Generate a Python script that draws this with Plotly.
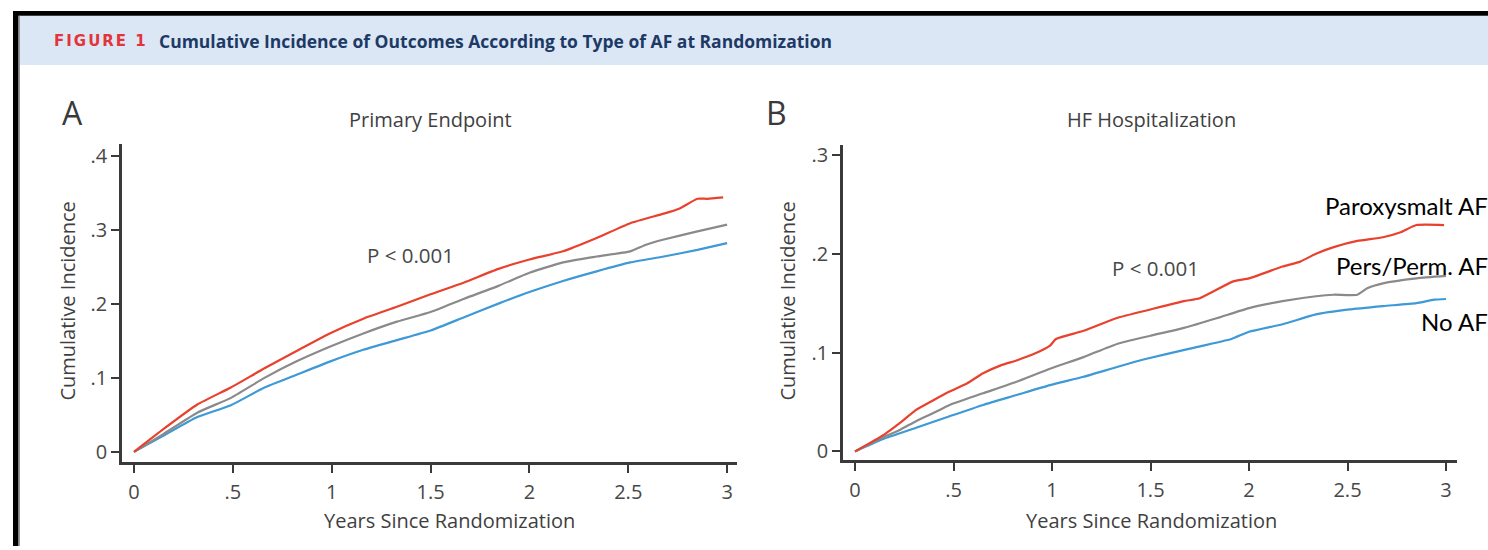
import plotly.graph_objects as go

W, H = 1488, 550

# ---------------- data ----------------
a_red_t = [0, 0.15, 0.32, 0.49, 0.66, 0.82, 0.99, 1.16, 1.33, 1.50, 1.67, 1.84, 2.00, 2.17, 2.34, 2.51, 2.68, 2.76, 2.85, 2.90, 2.98]
a_red_v = [0, 0.031, 0.064, 0.087, 0.113, 0.136, 0.160, 0.180, 0.196, 0.213, 0.229, 0.247, 0.260, 0.271, 0.289, 0.309, 0.322, 0.329, 0.342, 0.342, 0.344]

a_gray_t = [0, 0.15, 0.32, 0.49, 0.66, 0.82, 0.99, 1.16, 1.33, 1.50, 1.67, 1.84, 2.00, 2.17, 2.34, 2.51, 2.59, 2.68, 2.85, 3.0]
a_gray_v = [0, 0.0244, 0.053, 0.073, 0.100, 0.122, 0.142, 0.160, 0.176, 0.189, 0.207, 0.224, 0.242, 0.256, 0.264, 0.271, 0.280, 0.287, 0.298, 0.307]

a_blue_t = [0, 0.15, 0.32, 0.49, 0.66, 0.82, 0.99, 1.16, 1.33, 1.50, 1.67, 1.84, 2.00, 2.17, 2.34, 2.51, 2.68, 2.85, 3.0]
a_blue_v = [0, 0.022, 0.047, 0.063, 0.087, 0.104, 0.122, 0.138, 0.151, 0.164, 0.182, 0.200, 0.216, 0.231, 0.244, 0.256, 0.264, 0.273, 0.282]

b_red_t = [0, 0.15, 0.23, 0.31, 0.40, 0.48, 0.57, 0.65, 0.74, 0.82, 0.91, 0.99, 1.02, 1.16, 1.33, 1.50, 1.67, 1.75, 1.92, 2.00, 2.17, 2.26, 2.34, 2.43, 2.55, 2.68, 2.77, 2.85, 2.99]
b_red_v = [0, 0.0173, 0.029, 0.042, 0.052, 0.0605, 0.069, 0.079, 0.087, 0.092, 0.0987, 0.107, 0.1137, 0.122, 0.135, 0.1436, 0.152, 0.155, 0.172, 0.175, 0.187, 0.192, 0.200, 0.2067, 0.213, 0.2167, 0.2217, 0.229, 0.229]

b_gray_t = [0, 0.14, 0.23, 0.31, 0.40, 0.48, 0.65, 0.82, 0.99, 1.16, 1.33, 1.50, 1.67, 1.84, 2.00, 2.17, 2.34, 2.43, 2.55, 2.60, 2.68, 2.85, 3.0]
b_gray_v = [0, 0.014, 0.022, 0.0306, 0.039, 0.047, 0.0588, 0.0705, 0.0837, 0.0954, 0.1087, 0.117, 0.125, 0.135, 0.145, 0.152, 0.157, 0.1585, 0.1585, 0.165, 0.170, 0.175, 0.1775]

b_blue_t = [0, 0.14, 0.31, 0.48, 0.65, 0.82, 0.99, 1.16, 1.33, 1.48, 1.70, 1.91, 2.00, 2.17, 2.34, 2.51, 2.68, 2.85, 2.94, 3.0]
b_blue_v = [0, 0.0123, 0.0239, 0.0356, 0.047, 0.057, 0.067, 0.0755, 0.0854, 0.0937, 0.104, 0.1137, 0.121, 0.1286, 0.1386, 0.1436, 0.147, 0.150, 0.1535, 0.1542]

x_tickvals = [0, 0.5, 1, 1.5, 2, 2.5, 3]
x_ticktext = ["0", ".5", "1", "1.5", "2", "2.5", "3"]
a_y_tickvals = [0, 0.1, 0.2, 0.3, 0.4]
a_y_ticktext = ["0", ".1", ".2", ".3", ".4"]
b_y_tickvals = [0, 0.1, 0.2, 0.3]
b_y_ticktext = ["0", ".1", ".2", ".3"]

series_names = ["Paroxysmalt AF", "Pers/Perm. AF", "No AF"]

RED = "#e8412d"
GRAY = "#8a8a8a"
BLUE = "#3d9ad6"
AXC = "#3a3a3a"
TXT = "#474747"
FONT = "Open Sans"


def px(x):
    return x / W


def py(y):
    return 1 - y / H


fig = go.Figure()

for (t, v, c, n) in [(a_blue_t, a_blue_v, BLUE, series_names[2]),
                     (a_gray_t, a_gray_v, GRAY, series_names[1]),
                     (a_red_t, a_red_v, RED, series_names[0])]:
    fig.add_trace(go.Scatter(x=t, y=v, mode="lines",
                             line=dict(color=c, width=2.2, shape="spline", smoothing=0.5),
                             name=n, xaxis="x", yaxis="y", showlegend=False))

for (t, v, c, n) in [(b_blue_t, b_blue_v, BLUE, series_names[2]),
                     (b_gray_t, b_gray_v, GRAY, series_names[1]),
                     (b_red_t, b_red_v, RED, series_names[0])]:
    fig.add_trace(go.Scatter(x=t, y=v, mode="lines",
                             line=dict(color=c, width=2.2, shape="spline", smoothing=0.5),
                             name=n, xaxis="x2", yaxis="y2", showlegend=False))

axis_common = dict(showgrid=False, zeroline=False, showline=True, linecolor=AXC, linewidth=2.5,
                   ticks="outside", ticklen=8, tickwidth=2, tickcolor=AXC,
                   tickfont=dict(family=FONT, size=20, color=TXT), fixedrange=True)

fig.update_layout(
    width=W, height=H,
    margin=dict(l=0, r=0, t=0, b=0),
    paper_bgcolor="white", plot_bgcolor="white",
    xaxis=dict(domain=[px(122), px(737)], range=[(122 - 134) / 197.7, (737 - 134) / 197.7],
               tickvals=x_tickvals, ticktext=x_ticktext, anchor="y", ticklabelstandoff=2,
               **axis_common),
    yaxis=dict(domain=[py(465), py(142)], range=[(454.5 - 465) / 751, (454.5 - 142) / 751],
               tickvals=a_y_tickvals, ticktext=a_y_ticktext, anchor="x", **axis_common),
    xaxis2=dict(domain=[px(843), px(1457)], range=[(843 - 855) / 197, (1457 - 855) / 197],
                tickvals=x_tickvals, ticktext=x_ticktext, anchor="y2", ticklabelstandoff=2,
                **axis_common),
    yaxis2=dict(domain=[py(463), py(143)], range=[(454 - 463) / 1003, (454 - 143) / 1003],
                tickvals=b_y_tickvals, ticktext=b_y_ticktext, anchor="x2", **axis_common),
)

shapes = [
    # header band
    dict(type="rect", xref="paper", yref="paper", x0=px(19), x1=1, y0=py(62), y1=py(12),
         fillcolor="#dce7f5", line=dict(width=0), layer="below"),
    # frame
    dict(type="rect", xref="paper", yref="paper", x0=px(13), x1=1, y0=py(12), y1=py(7),
         fillcolor="black", line=dict(width=0)),
    dict(type="rect", xref="paper", yref="paper", x0=px(13), x1=px(18.5), y0=0, y1=py(7),
         fillcolor="black", line=dict(width=0)),
    dict(type="line", xref="paper", yref="paper", x0=px(19.5), x1=px(19.5), y0=0, y1=py(12),
         line=dict(color="#9a9a9a", width=1)),
]
fig.update_layout(shapes=shapes)

ann = []


def text(x, y, s, size, color=TXT, xanchor="center", family=FONT, angle=0, yanchor="middle"):
    ann.append(dict(x=px(x), y=py(y), xref="paper", yref="paper", text=s, showarrow=False,
                    xanchor=xanchor, yanchor=yanchor, textangle=angle,
                    font=dict(family=family, size=size, color=color)))


# header
text(52, 38, '<b><span style="letter-spacing:2px">FIGURE 1</span></b>', 15, color="#e3343b",
     xanchor="left", family="DejaVu Sans")
text(157, 38, "<b>Cumulative Incidence of Outcomes According to Type of AF at Randomization</b>", 17.5,
     color="#1d3a66", xanchor="left", family=FONT)

# panel letters & titles
text(72, 110, "A", 32, color="#3a3a3a")
text(776, 110, "B", 32, color="#3a3a3a")
text(430, 117, "Primary Endpoint", 20, color="#3f3f3f")
text(1151, 117, "HF Hospitalization", 20, color="#3f3f3f")

# axis titles
text(68, 302, "Cumulative Incidence", 20, color="#3f3f3f", angle=-90)
text(788, 302, "Cumulative Incidence", 20, color="#3f3f3f", angle=-90)
text(449, 524, "Years Since Randomization", 20, color="#3f3f3f")
text(1151, 524, "Years Since Randomization", 20, color="#3f3f3f")

# p-values
text(411, 255, "P < 0.001", 20.5)
text(1155, 268, "P < 0.001", 20.5)

# series labels
text(1490, 204, series_names[0], 24, color="black", xanchor="right", family="Lato")
text(1490, 265, series_names[1], 24, color="black", xanchor="right", family="Lato")
text(1490, 322, series_names[2], 24, color="black", xanchor="right", family="Lato")

fig.update_layout(annotations=ann)

fig.write_html("out.html", config={"displayModeBar": False})
